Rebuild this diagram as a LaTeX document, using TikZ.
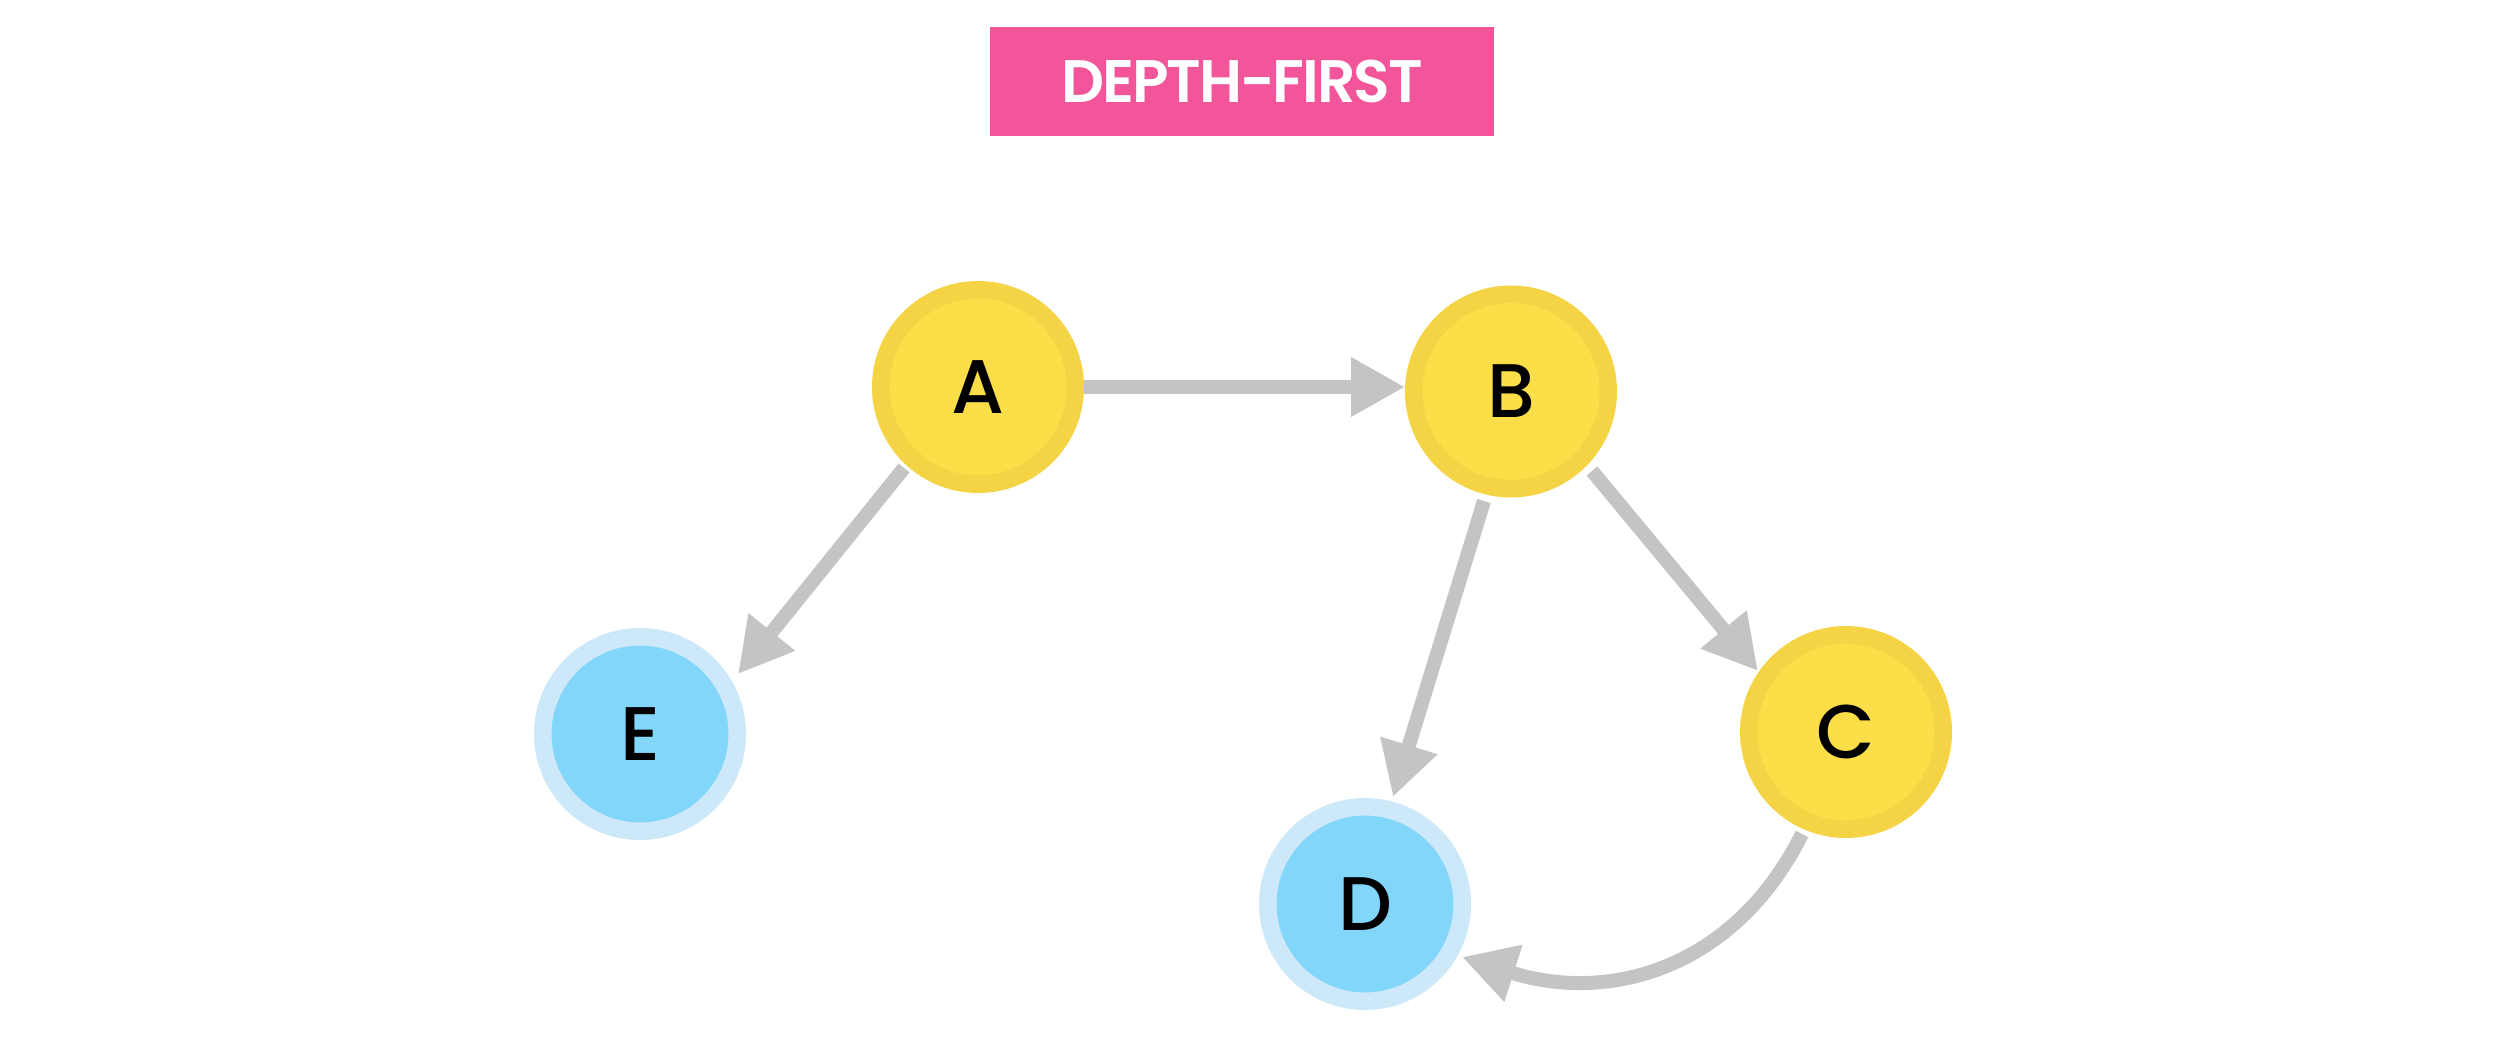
\documentclass[tikz,border=0pt]{standalone}
\usepackage{fontspec}
\setmainfont{Poppins}[BoldFont={Poppins SemiBold}]
\newfontfamily\nodefont{Poppins Medium}
\newfontfamily\titlefont{Poppins SemiBold}[LetterSpace=-3.5]
\usetikzlibrary{arrows.meta}
\definecolor{pinkT}{HTML}{F2559A}
\definecolor{fillY}{HTML}{FCDE48}
\definecolor{ringY}{HTML}{F4D444}
\definecolor{fillB}{HTML}{81D6FA}
\definecolor{ringB}{HTML}{CDE8F9}
\definecolor{edgeG}{HTML}{C4C4C4}
\begin{document}
\begin{tikzpicture}[x=1pt,y=-1pt,
  vis/.style={circle, draw=ringY, fill=fillY, line width=17.5pt, minimum size=194.5pt,
    inner sep=0pt, text=black, font=\nodefont\fontsize{76}{80}\selectfont},
  leaf/.style={vis, draw=ringB, fill=fillB},
  conn/.style={draw=edgeG, line width=14pt, line cap=butt,
    -{Triangle[length=54pt,width=56pt]}},
  titlebox/.style={fill=pinkT, text=white, minimum width=504pt, minimum height=109pt,
    inner sep=0pt, font=\titlefont\fontsize{60}{64}\selectfont}]
\useasboundingbox (0,0) rectangle (2511,1045);
\fill[white] (0,0) rectangle (2511,1045);
\node[titlebox] (title) at (1242,81.5) {DEPTH-FIRST};
\node[vis] (A) at (978,387) {A};
\node[vis] (B) at (1511,391.5) {B};
\node[vis] (C) at (1846,732) {C};
\node[leaf] (E) at (640,734) {E};
\node[leaf] (D) at (1365,904) {D};
\draw[conn] (A.east) -- (A.east -| B.west);
\draw[conn] ([shift={(-74,81)}]A.center) -- ([shift={(98,-60)}]E.center);
\draw[conn] ([shift={(-27,109.5)}]B.center) -- ([shift={(28,-107)}]D.center);
\draw[conn] ([shift={(81,79.5)}]B.center) -- ([shift={(-88,-61)}]C.center);
\draw[conn] ([shift={(-44,102)}]C.center) .. controls (1735,968) and (1610,1004) .. ([shift={(97,53)}]D.center);
\end{tikzpicture}
\end{document}
